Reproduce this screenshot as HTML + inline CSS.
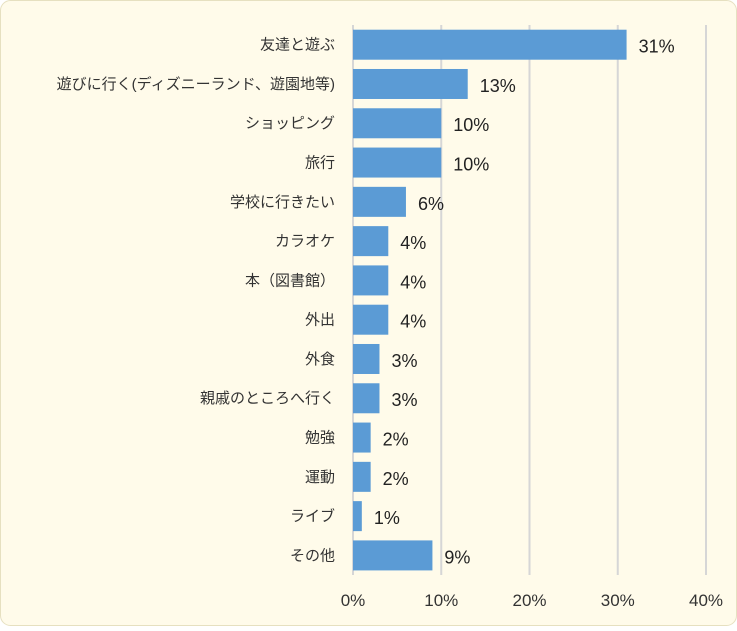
<!DOCTYPE html>
<html><head><meta charset="utf-8"><style>
body{margin:0;background:#fff;}
.wrap{width:737px;height:626px;position:relative;}
svg text{font-family:"Liberation Sans","Noto Sans CJK JP",sans-serif;}
</style></head><body>
<div class="wrap">
<svg width="737" height="626" id="svg">
<rect x="0.5" y="0.5" width="736" height="625" rx="10" fill="#fffbea" stroke="#e6e0c0"/>
<g id="grid"></g><g id="bars"></g><g id="labels"></g>
</svg>
</div>
<script>
const categories=["友達と遊ぶ","遊びに行く(ディズニーランド、遊園地等)","ショッピング","旅行","学校に行きたい","カラオケ","本（図書館）","外出","外食","親戚のところへ行く","勉強","運動","ライブ","その他"];
const values=[31,13,10,10,6,4,4,4,3,3,2,2,1,9];
const ticks=[0,10,20,30,40];
const svg=document.getElementById('svg');
const NS="http://www.w3.org/2000/svg";
const x0=353,x1=706,top0=25,bot=575;
const xs=v=>x0+(x1-x0)*v/40;
const band=(bot-top0)/categories.length;
function mk(t,a,p){const e=document.createElementNS(NS,t);for(const k in a)e.setAttribute(k,a[k]);p.appendChild(e);return e;}
const g=document.getElementById('grid'),b=document.getElementById('bars'),l=document.getElementById('labels');
ticks.forEach(t=>{
 const ln=mk('line',{x1:xs(t),x2:xs(t),y1:top0,y2:bot,stroke:'#d6d6d6','stroke-width':2},g);
 
 
 const tx=mk('text',{x:xs(t),y:606,'text-anchor':'middle','font-size':17,fill:'#333'},l);
 tx.textContent=t+'%';
 
 
});
categories.forEach((c,i)=>{
 const y=top0+i*band;
 const r=mk('rect',{x:x0,y:y+4.7,width:xs(values[i])-x0,height:30,fill:'#5b9bd5'},b);
 
 
 const cl=mk('text',{x:335,y:y+band/2+5,'text-anchor':'end','font-size':15,fill:'#333'},l);
 cl.textContent=c;
 
 
 const vl=mk('text',{x:xs(values[i])+12,y:y+band/2+8,'font-size':18,fill:'#222'},l);
 vl.textContent=values[i]+'%';
 
 
});
</script>
</body></html>
